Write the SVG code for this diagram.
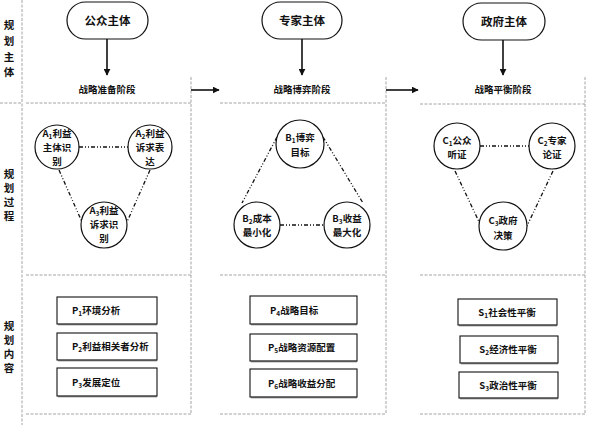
<svg xmlns="http://www.w3.org/2000/svg" width="589" height="425" viewBox="0 0 589 425">
<defs>
<marker id="ah" viewBox="0 0 10 10" refX="9" refY="5" markerWidth="7" markerHeight="7" markerUnits="userSpaceOnUse" orient="auto"><path d="M0,0 L10,5 L0,10 z" fill="#111"/></marker>
<style>
.t{font-family:"Noto Sans CJK SC","Noto Sans",sans-serif;fill:#111;font-weight:bold}
.lab{font-size:10.5px}
.hd{font-size:11.5px}
.st{font-size:9.5px}
.c{font-size:9.5px}
.b{font-size:9.5px}
.frame{stroke:#9a9a9a;stroke-width:0.9;stroke-dasharray:3 1.5;fill:none}
.ov{fill:#fff;stroke:#111;stroke-width:1.2}
.cir{fill:#fff;stroke:#111;stroke-width:1.2}
.box{fill:#fff;stroke:#111;stroke-width:1.1}
.sh{fill:none;stroke:#555;stroke-width:1.4}
.arr{stroke:#111;stroke-width:1.6;fill:none;marker-end:url(#ah)}
.dd{stroke:#111;stroke-width:1.3;stroke-dasharray:4 2 1 2 1 2;fill:none}
</style>
</defs>
<rect width="589" height="425" fill="#fff"/>
<g id="frame">
<line class="frame" x1="22" y1="0" x2="22" y2="425"/>
<line class="frame" x1="0" y1="103" x2="22" y2="103"/>
<line class="frame" x1="26" y1="103" x2="191" y2="103"/>
<line class="frame" x1="26" y1="275" x2="191" y2="275"/>
<line class="frame" x1="26" y1="414" x2="191" y2="414"/>
<line class="frame" x1="191" y1="77" x2="191" y2="414"/>
<line class="frame" x1="220" y1="103" x2="386" y2="103"/>
<line class="frame" x1="220" y1="275" x2="386" y2="275"/>
<line class="frame" x1="220" y1="414" x2="386" y2="414"/>
<line class="frame" x1="386" y1="77" x2="386" y2="414"/>
<line class="frame" x1="420" y1="104" x2="585" y2="104"/>
<line class="frame" x1="420" y1="275" x2="585" y2="275"/>
<line class="frame" x1="420" y1="414" x2="585" y2="414"/>
<line class="frame" x1="585" y1="77" x2="585" y2="414"/>
</g>
<g id="row-labels" class="t lab" text-anchor="middle">
<text x="9" y="29">规</text><text x="9" y="45">划</text><text x="9" y="61">主</text><text x="9" y="76">体</text>
<text x="9" y="178">规</text><text x="9" y="192">划</text><text x="9" y="206">过</text><text x="9" y="220">程</text>
<text x="9" y="330">规</text><text x="9" y="344">划</text><text x="9" y="358">内</text><text x="9" y="372">容</text>
</g>
<g id="connectors">
<line class="arr" x1="107" y1="39" x2="107" y2="75"/>
<line class="arr" x1="302" y1="39" x2="302" y2="75"/>
<line class="arr" x1="503" y1="40" x2="503" y2="75"/>
<line class="arr" x1="191" y1="90" x2="219" y2="90"/>
<line class="arr" x1="386" y1="90" x2="418" y2="90"/>
<line class="dd" x1="79" y1="147" x2="128" y2="147"/>
<line class="dd" x1="59" y1="170" x2="82" y2="222"/>
<line class="dd" x1="150" y1="170" x2="127" y2="222"/>
<line class="dd" x1="277" y1="137" x2="242" y2="203"/>
<line class="dd" x1="323" y1="137" x2="363" y2="203"/>
<line class="dd" x1="280" y1="225" x2="325" y2="225"/>
<line class="dd" x1="480" y1="146" x2="529" y2="146"/>
<line class="dd" x1="455" y1="171" x2="481" y2="226"/>
<line class="dd" x1="553" y1="171" x2="527" y2="226"/>
</g>
<g id="public-subject"><rect class="ov" x="67" y="2" width="81" height="37" rx="18.5"/><text class="t hd" x="107.5" y="25" text-anchor="middle">公众主体</text></g>
<g id="expert-subject"><rect class="ov" x="262" y="2" width="80" height="37" rx="18.5"/><text class="t hd" x="302" y="25" text-anchor="middle">专家主体</text></g>
<g id="gov-subject"><rect class="ov" x="463" y="3" width="82" height="37" rx="18.5"/><text class="t hd" x="504" y="26" text-anchor="middle">政府主体</text></g>
<g id="stage1"><text class="t st" x="107" y="93" text-anchor="middle">战略准备阶段</text></g>
<g id="stage2"><text class="t st" x="302" y="93" text-anchor="middle">战略博弈阶段</text></g>
<g id="stage3"><text class="t st" x="503" y="93" text-anchor="middle">战略平衡阶段</text></g>
<g id="A1"><circle class="cir" cx="57" cy="147" r="22"/><text class="t c" text-anchor="middle"><tspan x="57" y="137">A<tspan font-size="6.5" dy="2">1</tspan><tspan dy="-2">利益</tspan></tspan><tspan x="57" y="151">主体识</tspan><tspan x="57" y="165">别</tspan></text></g>
<g id="A2"><circle class="cir" cx="150" cy="147" r="22"/><text class="t c" text-anchor="middle"><tspan x="150" y="137">A<tspan font-size="6.5" dy="2">2</tspan><tspan dy="-2">利益</tspan></tspan><tspan x="150" y="151">诉求表</tspan><tspan x="150" y="165">达</tspan></text></g>
<g id="A3"><circle class="cir" cx="104" cy="225" r="23"/><text class="t c" text-anchor="middle"><tspan x="104" y="214">A<tspan font-size="6.5" dy="2">3</tspan><tspan dy="-2">利益</tspan></tspan><tspan x="104" y="228">诉求识</tspan><tspan x="104" y="242">别</tspan></text></g>
<g id="B1"><circle class="cir" cx="300" cy="144" r="24"/><text class="t c" text-anchor="middle"><tspan x="300" y="141">B<tspan font-size="6.5" dy="2">1</tspan><tspan dy="-2">博弈</tspan></tspan><tspan x="300" y="156">目标</tspan></text></g>
<g id="B2"><circle class="cir" cx="257" cy="225" r="23"/><text class="t c" text-anchor="middle"><tspan x="257" y="222">B<tspan font-size="6.5" dy="2">2</tspan><tspan dy="-2">成本</tspan></tspan><tspan x="257" y="236">最小化</tspan></text></g>
<g id="B3"><circle class="cir" cx="347" cy="225" r="23"/><text class="t c" text-anchor="middle"><tspan x="347" y="222">B<tspan font-size="6.5" dy="2">3</tspan><tspan dy="-2">收益</tspan></tspan><tspan x="347" y="236">最大化</tspan></text></g>
<g id="C1"><circle class="cir" cx="457" cy="146" r="23"/><text class="t c" text-anchor="middle"><tspan x="457" y="144">C<tspan font-size="6.5" dy="2">1</tspan><tspan dy="-2">公众</tspan></tspan><tspan x="457" y="158">听证</tspan></text></g>
<g id="C2"><circle class="cir" cx="552" cy="146" r="23"/><text class="t c" text-anchor="middle"><tspan x="552" y="144">C<tspan font-size="6.5" dy="2">2</tspan><tspan dy="-2">专家</tspan></tspan><tspan x="552" y="158">论证</tspan></text></g>
<g id="C3"><circle class="cir" cx="503" cy="226" r="24"/><text class="t c" text-anchor="middle"><tspan x="503" y="224">C<tspan font-size="6.5" dy="2">3</tspan><tspan dy="-2">政府</tspan></tspan><tspan x="503" y="239">决策</tspan></text></g>
<g id="P1"><rect class="box" x="57" y="297" width="100" height="27"/><line class="sh" x1="58" y1="324.5" x2="157" y2="324.5"/><text class="t b" x="72" y="314">P<tspan font-size="6.5" dy="2">1</tspan><tspan dy="-2">环境分析</tspan></text></g>
<g id="P2"><rect class="box" x="57" y="333" width="100" height="27"/><line class="sh" x1="58" y1="360.5" x2="157" y2="360.5"/><text class="t b" x="72" y="350">P<tspan font-size="6.5" dy="2">2</tspan><tspan dy="-2">利益相关者分析</tspan></text></g>
<g id="P3"><rect class="box" x="57" y="368" width="100" height="28"/><line class="sh" x1="58" y1="396.5" x2="157" y2="396.5"/><text class="t b" x="72" y="386">P<tspan font-size="6.5" dy="2">3</tspan><tspan dy="-2">发展定位</tspan></text></g>
<g id="P4"><rect class="box" x="250" y="296" width="107" height="28"/><line class="sh" x1="251" y1="324.5" x2="357" y2="324.5"/><text class="t b" x="270" y="314">P<tspan font-size="6.5" dy="2">4</tspan><tspan dy="-2">战略目标</tspan></text></g>
<g id="P5"><rect class="box" x="250" y="334" width="107" height="27"/><line class="sh" x1="251" y1="361.5" x2="357" y2="361.5"/><text class="t b" x="268" y="351">P<tspan font-size="6.5" dy="2">5</tspan><tspan dy="-2">战略资源配置</tspan></text></g>
<g id="P6"><rect class="box" x="250" y="369" width="107" height="28"/><line class="sh" x1="251" y1="397.5" x2="357" y2="397.5"/><text class="t b" x="268" y="387">P<tspan font-size="6.5" dy="2">6</tspan><tspan dy="-2">战略收益分配</tspan></text></g>
<g id="S1"><rect class="box" x="458" y="299" width="99" height="26"/><line class="sh" x1="459" y1="325.5" x2="557" y2="325.5"/><text class="t b" x="507" y="316" text-anchor="middle">S<tspan font-size="6.5" dy="2">1</tspan><tspan dy="-2">社会性平衡</tspan></text></g>
<g id="S2"><rect class="box" x="460" y="336" width="98" height="27"/><line class="sh" x1="461" y1="363.5" x2="558" y2="363.5"/><text class="t b" x="508" y="353" text-anchor="middle">S<tspan font-size="6.5" dy="2">2</tspan><tspan dy="-2">经济性平衡</tspan></text></g>
<g id="S3"><rect class="box" x="459" y="372" width="99" height="26"/><line class="sh" x1="460" y1="398.5" x2="558" y2="398.5"/><text class="t b" x="508" y="389" text-anchor="middle">S<tspan font-size="6.5" dy="2">3</tspan><tspan dy="-2">政治性平衡</tspan></text></g>
</svg>
